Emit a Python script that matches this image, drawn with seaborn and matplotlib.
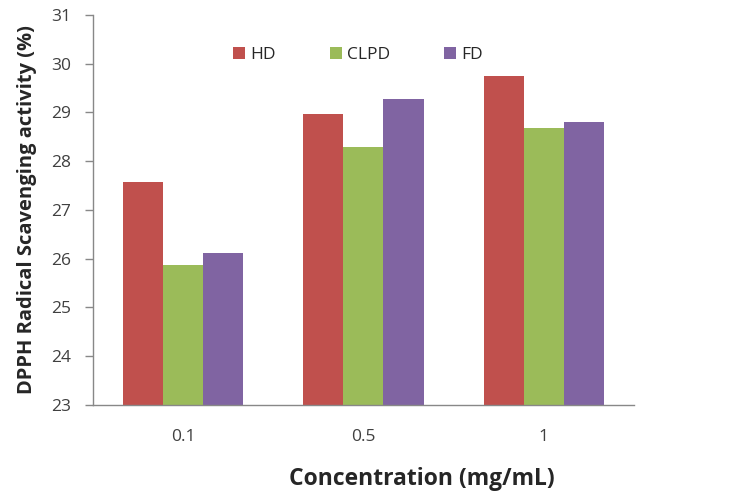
import matplotlib
matplotlib.use("Agg")
import matplotlib.pyplot as plt
import seaborn as sns
import pandas as pd

concentrations = ["0.1", "0.5", "1"]
samples = ["HD", "CLPD", "FD"]
hd = [27.58, 28.97, 29.75]
clpd = [25.87, 28.28, 28.68]
fd = [26.11, 29.28, 28.81]
colors = ["#C0504D", "#9BBB59", "#8064A2"]

df = pd.DataFrame({
    "Concentration": concentrations * 3,
    "Sample": [s for s in samples for _ in concentrations],
    "Activity": hd + clpd + fd,
})

sns.set_style("white")
plt.rcParams["font.family"] = ["Open Sans", "DejaVu Sans"]

fig = plt.figure(figsize=(7.44, 4.95), dpi=100)
ax = fig.add_axes([0.125, 0.182, 0.727, 0.788])

sns.barplot(data=df, x="Concentration", y="Activity", hue="Sample",
            order=concentrations, hue_order=samples, palette=colors,
            width=0.667, saturation=1, ax=ax, edgecolor="none")

ax.set_ylim(23, 31)
ax.set_yticks(range(23, 32))
ax.set_xlim(-0.5, 2.5)

for side in ("top", "right"):
    ax.spines[side].set_visible(False)
for side in ("left", "bottom"):
    ax.spines[side].set_color("#888888")
    ax.spines[side].set_linewidth(1.0)

ax.tick_params(axis="y", which="major", direction="out", length=6, width=1,
               color="#888888", labelsize=12.5, labelcolor="#404040", left=True,
               pad=10)
ax.tick_params(axis="x", length=0, labelsize=12.5, labelcolor="#404040", pad=17)

ax.set_xlabel("Concentration (mg/mL)", fontsize=16.5, fontweight="bold", labelpad=14)
ax.xaxis.set_label_coords(0.608, -0.158)
ax.set_ylabel("DPPH Radical Scavenging activity (%)", fontsize=14.5, fontweight="bold", labelpad=10)

ax.legend(loc="upper left", bbox_to_anchor=(0.259, 0.918), ncol=3, frameon=False,
          fontsize=12.5, handlelength=0.7, handleheight=0.7, columnspacing=3.1,
          handletextpad=0.3, borderpad=0, borderaxespad=0)

fig.savefig("out.png", dpi=100, facecolor="white")
